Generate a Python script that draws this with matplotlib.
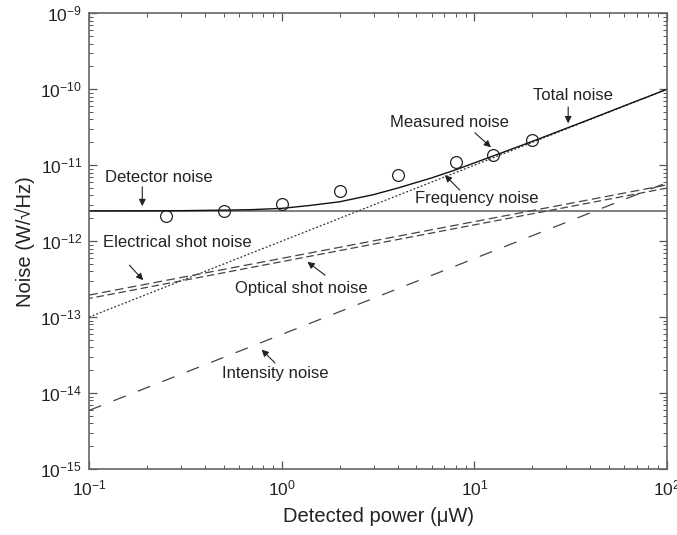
import matplotlib
matplotlib.use("Agg")
import matplotlib.pyplot as plt
from matplotlib.ticker import LogLocator, LogFormatterMathtext, NullFormatter

plt.rcParams['font.family'] = ['Liberation Sans', 'DejaVu Sans']
plt.rcParams['mathtext.default'] = 'regular'

# values
power_ends = [0.1, 100]
detector_noise = [2.5e-12, 2.5e-12]
frequency_noise = [1.0e-13, 1.0e-10]
electrical_shot = [1.95e-13, 5.5e-12]
optical_shot = [1.76e-13, 5.0e-12]
intensity_noise = [5.9e-15, 5.9e-12]

total_power = [0.1, 0.2, 0.3, 0.5, 0.7, 1, 1.4, 2, 3, 4, 6, 8, 12.5, 20, 40, 60, 100]
total_noise = [2.5e-12, 2.51e-12, 2.52e-12, 2.56e-12, 2.6e-12, 2.7e-12, 2.95e-12,
               3.3e-12, 4.1e-12, 5.0e-12, 6.8e-12, 8.7e-12, 1.32e-11, 2.06e-11,
               4.05e-11, 6.05e-11, 1.0e-10]

meas_power = [0.25, 0.5, 1, 2, 4, 8, 12.5, 20]
meas_noise = [2.15e-12, 2.53e-12, 3.08e-12, 4.56e-12, 7.41e-12, 1.09e-11, 1.36e-11, 2.14e-11]

# label text, text position, arrow tail, arrow head (data coords)
labels = [
    ("Total noise", (32.6, 8.4e-11), (30.7, 5.87e-11), (30.7, 3.56e-11)),
    ("Measured noise", (7.47, 3.66e-11), (10.07, 2.67e-11), (12.2, 1.72e-11)),
    ("Frequency noise", (10.3, 3.66e-12), (8.41, 4.70e-12), (7.03, 7.41e-12)),
    ("Detector noise", (0.231, 6.9e-12), (0.189, 5.19e-12), (0.189, 2.89e-12)),
    ("Electrical shot noise", (0.288, 9.5e-13), (0.162, 4.83e-13), (0.191, 3.06e-13)),
    ("Optical shot noise", (1.27, 2.38e-13), (1.68, 3.56e-13), (1.36, 5.34e-13)),
    ("Intensity noise", (0.923, 1.81e-14), (0.923, 2.49e-14), (0.787, 3.74e-14)),
]

fig = plt.figure(figsize=(6.77, 5.35), dpi=100)
ax = fig.add_axes([0.1315, 0.1234, 0.8537, 0.8517])

ax.plot(power_ends, detector_noise, color="#6a6a6a", lw=1.2)
ax.plot(power_ends, frequency_noise, color="#333333", lw=0.9, linestyle=(0, (1.5, 1.6)))
ax.plot(power_ends, electrical_shot, color="#444444", lw=0.9, linestyle=(0, (7, 3.5)))
ax.plot(power_ends, optical_shot, color="#444444", lw=0.9, linestyle=(3, (6, 3)))
ax.plot(power_ends, intensity_noise, color="#444444", lw=0.9, linestyle=(0, (10.5, 10.5)))
ax.plot(total_power, total_noise, color="#111111", lw=1.0)
ax.plot(meas_power, meas_noise, linestyle="none", marker="o", markersize=8.5,
        markerfacecolor="none", markeredgecolor="#222222", markeredgewidth=0.9)

for text, txy, tail, head in labels:
    ax.text(txy[0], txy[1], text, ha="center", va="center", fontsize=12, color="#222222")
    ax.annotate("", xy=head, xytext=tail,
                arrowprops=dict(arrowstyle="-|>", color="#222222", lw=0.8,
                                mutation_scale=10, shrinkA=0, shrinkB=0))

ax.set_xscale("log")
ax.set_yscale("log")
ax.set_xlim(0.1, 100)
ax.set_ylim(1e-15, 1e-9)

ax.xaxis.set_major_locator(LogLocator(base=10, numticks=10))
ax.yaxis.set_major_locator(LogLocator(base=10, numticks=10))
ax.xaxis.set_minor_locator(LogLocator(base=10, subs=range(2, 10), numticks=20))
ax.yaxis.set_minor_locator(LogLocator(base=10, subs=range(2, 10), numticks=20))
ax.xaxis.set_major_formatter(LogFormatterMathtext())
ax.yaxis.set_major_formatter(LogFormatterMathtext())
ax.xaxis.set_minor_formatter(NullFormatter())
ax.yaxis.set_minor_formatter(NullFormatter())

ax.tick_params(which="both", direction="in", top=True, right=True, colors="#555555",
               labelcolor="#222222")
ax.tick_params(which="major", length=6, width=0.9, labelsize=12.5)
ax.tick_params(axis="x", which="major", pad=7)
ax.tick_params(axis="y", which="major", pad=5)
ax.tick_params(which="minor", length=3, width=0.7)
for sp in ax.spines.values():
    sp.set_color("#666666")
    sp.set_linewidth(1.2)

ax.set_xlabel("Detected power (\u03bcW)", fontsize=14.5, color="#222222", labelpad=6)
ax.set_ylabel("Noise (W/\u221aHz)", fontsize=14.5, color="#222222", labelpad=4)

fig.savefig("out.png", dpi=100)
